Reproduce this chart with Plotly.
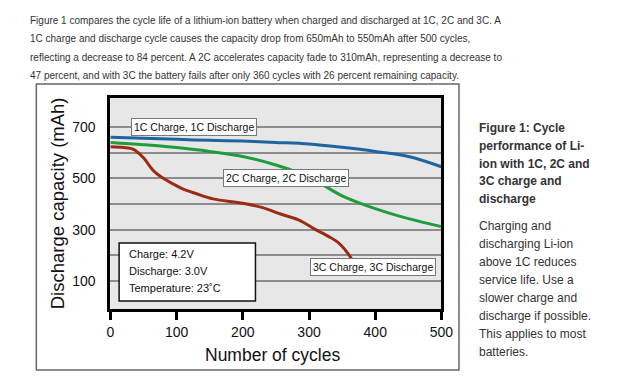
import plotly.graph_objects as go

# ---------------- data ----------------
cycles_1c = [0, 50, 100, 150, 200, 250, 300, 350, 400, 450, 500]
cap_1c = [660, 656, 652, 648, 645, 640, 634, 621, 605, 585, 545]

cycles_2c = [0, 50, 100, 150, 200, 250, 300, 350, 400, 450, 500]
cap_2c = [640, 631, 620, 605, 585, 552, 505, 432, 382, 343, 312]

cycles_3c = [0, 20, 35, 50, 65, 80, 95, 110, 130, 155, 200, 230, 256, 285, 308, 330, 345, 355, 364]
cap_3c = [623, 620, 613, 580, 530, 500, 478, 458, 440, 420, 403, 386, 362, 337, 303, 273, 248, 220, 188]

x_ticks = [0, 100, 200, 300, 400, 500]
y_grid = [100, 200, 300, 400, 500, 600, 700]
y_ticktext = ["100", "", "300", "", "500", "", "700"]

series_names = ["1C Charge, 1C Discharge", "2C Charge, 2C Discharge", "3C Charge, 3C Discharge"]
series_colors = ["#1e64a0", "#1f9d3c", "#9c2b13"]

conditions = ["Charge: 4.2V", "Discharge: 3.0V", "Temperature: 23˚C"]

intro_lines = [
    "Figure 1 compares the cycle life of a lithium-ion battery when charged and discharged at 1C, 2C and 3C. A",
    "1C charge and discharge cycle causes the capacity drop from 650mAh to 550mAh after 500 cycles,",
    "reflecting a decrease to 84 percent. A 2C accelerates capacity fade to 310mAh, representing a decrease to",
    "47 percent, and with 3C the battery fails after only 360 cycles with 26 percent remaining capacity.",
]
caption_bold = ["Figure 1: Cycle", "performance of Li-", "ion with 1C, 2C and", "3C charge and", "discharge"]
caption_text = ["Charging and", "discharging Li-ion", "above 1C reduces", "service life. Use a",
                "slower charge and", "discharge if possible.", "This applies to most", "batteries."]

# ---------------- figure ----------------
OFF = 8  # page body margin (figure sized so page is exactly 627x382)
W, H = 627 - 2 * OFF, 382 - 2 * OFF
def px(v):
    return (v - OFF) / W
def py(v):
    return 1 - (v - OFF) / H

FONT = "Liberation Sans, Arial, Helvetica, sans-serif"

fig = go.Figure()
for xs, ys, c in [(cycles_1c, cap_1c, series_colors[0]),
                  (cycles_2c, cap_2c, series_colors[1]),
                  (cycles_3c, cap_3c, series_colors[2])]:
    fig.add_trace(go.Scatter(x=xs, y=ys, mode="lines",
                             line=dict(color=c, width=3, shape="spline", smoothing=1.0),
                             hoverinfo="skip", showlegend=False))

ann = []
label_pos = [(127, 700), (266, 500), (397, 155)]
for name, (lx, ly) in zip(series_names, label_pos):
    ann.append(dict(x=lx, y=ly, xref="x", yref="y", text=name, showarrow=False,
                    font=dict(size=10.5, color="#111", family=FONT),
                    bgcolor="white", bordercolor="#777", borderwidth=1, borderpad=2))

for i, t in enumerate(conditions):
    ann.append(dict(x=px(126), y=py(254 + 17 * i), xref="paper", yref="paper", text=t,
                    xanchor="left", yanchor="middle", showarrow=False,
                    font=dict(size=11, color="#111", family=FONT)))

ann.append(dict(x=px(276), y=py(355), xref="paper", yref="paper", text="Number of cycles",
                showarrow=False, xanchor="center", yanchor="middle",
                font=dict(size=17.5, color="#111", family=FONT)))
ann.append(dict(x=px(55), y=py(203.5), xref="paper", yref="paper", text="Discharge capacity (mAh)",
                showarrow=False, textangle=-90, xanchor="center", yanchor="middle",
                font=dict(size=18.5, color="#111", family=FONT)))

for i, t in enumerate(intro_lines):
    ann.append(dict(x=px(24), y=py(20 + 18.5 * i), xref="paper", yref="paper", text=t,
                    xanchor="left", yanchor="middle", showarrow=False,
                    font=dict(size=10, color="#333", family=FONT)))

for i, t in enumerate(caption_bold):
    ann.append(dict(x=px(486), y=py(128.3 + 17.7 * i), xref="paper", yref="paper", text="<b>" + t + "</b>",
                    xanchor="left", yanchor="middle", showarrow=False,
                    font=dict(size=12, color="#333", family=FONT)))
for i, t in enumerate(caption_text):
    ann.append(dict(x=px(486), y=py(226 + 17.96 * i), xref="paper", yref="paper", text=t,
                    xanchor="left", yanchor="middle", showarrow=False,
                    font=dict(size=12, color="#333", family=FONT)))

shapes = [
    dict(type="rect", xref="paper", yref="paper", x0=px(33), x1=px(467), y0=py(370), y1=py(84),
         line=dict(color="#666", width=1.5), fillcolor="rgba(0,0,0,0)", layer="below"),
    dict(type="rect", xref="paper", yref="paper", x0=px(118), x1=px(258), y0=py(301), y1=py(243),
         line=dict(color="#111", width=1.5), fillcolor="white", layer="above"),
]

fig.update_layout(
    width=W, height=H, margin=dict(l=0, r=0, t=0, b=0),
    paper_bgcolor="white", plot_bgcolor="#e7e7e7",
    font=dict(family=FONT, color="#111"),
    annotations=ann, shapes=shapes,
    xaxis=dict(domain=[px(109), px(449)], range=[0, 500], tickvals=x_ticks,
               ticks="outside", ticklen=8, tickwidth=3, tickcolor="black",
               showline=True, linewidth=3, linecolor="black", mirror=True,
               showgrid=False, zeroline=False, tickfont=dict(size=14, color="#111")),
    yaxis=dict(domain=[py(309), py(98)], range=[-9, 813], tickvals=y_grid, ticktext=y_ticktext,
               ticks="", showgrid=True, gridcolor="#8c8c8c", gridwidth=2,
               showline=True, linewidth=3, linecolor="black", mirror=True,
               zeroline=False, ticklabelstandoff=9, tickfont=dict(size=14, color="#111")),
)

fig.write_html("out.html")
